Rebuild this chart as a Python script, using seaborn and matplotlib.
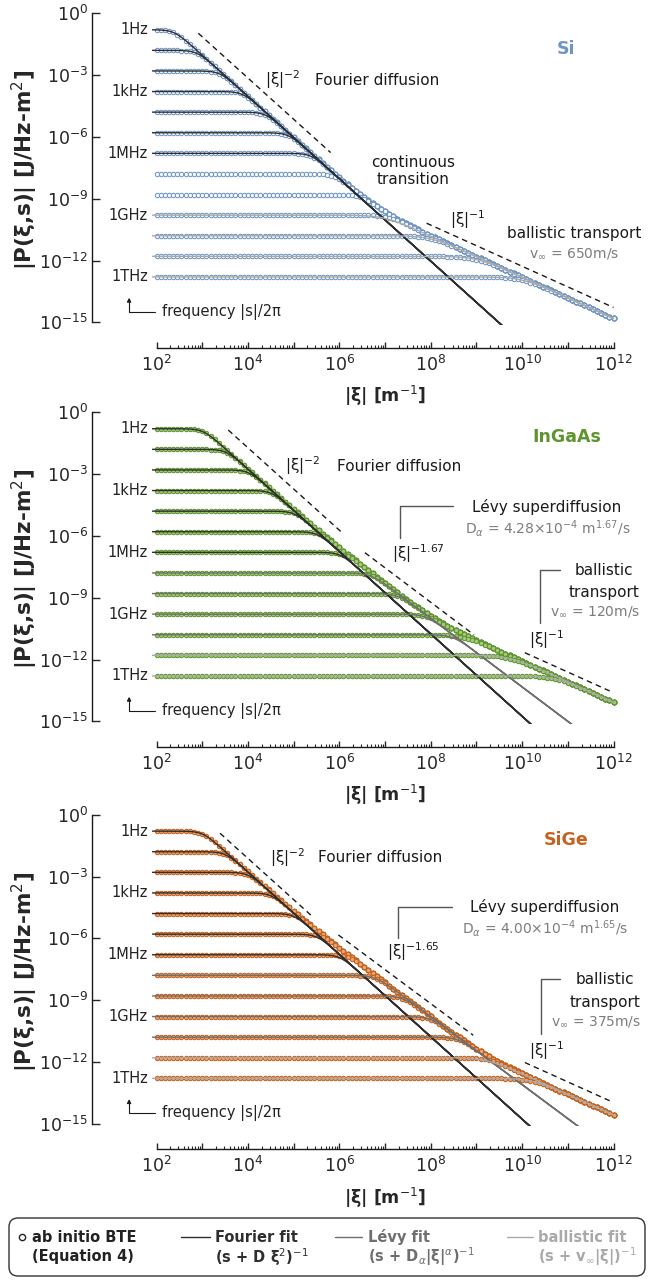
import numpy as np
import pandas as pd
import matplotlib
matplotlib.use("Agg")
import matplotlib.pyplot as plt
import seaborn as sns
from matplotlib.patches import FancyBboxPatch
from matplotlib.ticker import FixedLocator, NullFormatter, FuncFormatter, NullLocator

# ---------------- data ----------------
freq_exponents = np.arange(0, 13)                 # |s|/2pi = 10^k Hz : 1 Hz ... 1 THz
freq_label_text = ["1Hz", "", "", "1kHz", "", "", "1MHz", "", "", "1GHz", "", "", "1THz"]
xi_min_exp, xi_max_exp, pts_per_decade = 2, 12, 11

materials = ["Si", "InGaAs", "SiGe"]
material_colors = ["#6d95c8", "#5f9530", "#c5621f"]
material_faces = ["#ffffff", "#a8cb7e", "#eba672"]
D_fourier = [1.07e-4, 5.7e-6, 6.0e-6]            # m^2/s
D_levy = [None, 4.28e-4, 4.00e-4]                # m^alpha/s
alpha_levy = [None, 1.67, 1.65]
v_ballistic = [650.0, 120.0, 375.0]              # m/s
crossover_sharpness = [1.0, 2.0, 2.0]

fourier_fit_f = [list(range(0, 7)), list(range(0, 7)), list(range(0, 7))]
levy_fit_f = [[], list(range(7, 11)), list(range(7, 11))]
ballistic_fit_f = [list(range(9, 13)), list(range(11, 13)), list(range(11, 13))]

# dashed guide lines: slope, log10 prefactor, log10 xi range
guide_slopes = [[2, 1], [2, 1.67, 1], [2, 1.65, 1]]
guide_logK = [[4.86, -2.28], [6.28, 4.14, -1.61], [5.88, 4.03, -1.97]]
guide_xi_start = [[2.915, 7.91], [3.57, 6.56, 10.06], [3.39, 5.98, 10.06]]
guide_xi_end = [[5.81, 12.0], [6.03, 8.95, 11.98], [5.40, 8.93, 11.98]]

FOURIER_C, LEVY_C, BALL_C = "#2e2e2e", "#6f6f6f", "#a9a9a9"
GRAY_TXT = "#7d7d7d"


def response(omega, gamma):
    return np.abs(1.0 / (1j * omega + gamma))


def bte_rate(xi, m):
    rates = [D_fourier[m] * xi ** 2, v_ballistic[m] * xi]
    if D_levy[m] is not None:
        rates.append(D_levy[m] * xi ** alpha_levy[m])
    n = crossover_sharpness[m]
    return sum(r ** (-n) for r in rates) ** (-1.0 / n)


# ---------------- figure ----------------
sns.set_theme(style="ticks")
plt.rcParams["font.family"] = ["DejaVu Sans"]
plt.rcParams["mathtext.fontset"] = "dejavusans"

W, H = 654, 1283
fig = plt.figure(figsize=(W / 100, H / 100), dpi=100)

pxx, pxy = 45.7, 20.6
x_left = 156.5 - 0.1 * pxx
ax_w = 10.2 * pxx
y0_px = [13.3, 412.3, 814.7]
ytop, ybot = 0.5, -15.12

xi_data = np.logspace(xi_min_exp, xi_max_exp, (xi_max_exp - xi_min_exp) * pts_per_decade + 1)
xi_fit = np.logspace(1.9, 12, 600)

texts = [
    [("|ξ|$^{-2}$", 4.77, -3.24, "center", "k", 11, "normal"),
     ("Fourier diffusion", 5.47, -3.24, "left", "k", 11, "normal"),
     ("continuous\ntransition", 7.61, -7.66, "center", "k", 11, "normal"),
     ("|ξ|$^{-1}$", 8.81, -10.03, "center", "k", 11, "normal"),
     ("ballistic transport", 11.14, -10.68, "center", "k", 11, "normal"),
     ("v$_\\infty$ = 650m/s", 11.14, -11.65, "center", GRAY_TXT, 10, "normal"),
     ("Si", 10.96, -1.75, "center", material_colors[0], 12.5, "bold")],
    [("|ξ|$^{-2}$", 5.21, -2.61, "center", "k", 11, "normal"),
     ("Fourier diffusion", 5.94, -2.61, "left", "k", 11, "normal"),
     ("Lévy superdiffusion", 10.54, -4.58, "center", "k", 11, "normal"),
     ("D$_\\alpha$ = 4.28×10$^{-4}$ m$^{1.67}$/s", 10.57, -5.62, "center", GRAY_TXT, 10, "normal"),
     ("|ξ|$^{-1.67}$", 7.73, -6.88, "center", "k", 11, "normal"),
     ("ballistic", 11.79, -7.66, "center", "k", 11, "normal"),
     ("transport", 11.79, -8.74, "center", "k", 11, "normal"),
     ("v$_\\infty$ = 120m/s", 11.6, -9.68, "center", GRAY_TXT, 10, "normal"),
     ("|ξ|$^{-1}$", 10.54, -11.05, "center", "k", 11, "normal"),
     ("InGaAs", 10.98, -1.18, "center", material_colors[1], 12.5, "bold")],
    [("|ξ|$^{-2}$", 4.87, -2.07, "center", "k", 11, "normal"),
     ("Fourier diffusion", 5.54, -2.07, "left", "k", 11, "normal"),
     ("Lévy superdiffusion", 10.50, -4.47, "center", "k", 11, "normal"),
     ("D$_\\alpha$ = 4.00×10$^{-4}$ m$^{1.65}$/s", 10.50, -5.51, "center", GRAY_TXT, 10, "normal"),
     ("|ξ|$^{-1.65}$", 7.61, -6.65, "center", "k", 11, "normal"),
     ("ballistic", 11.81, -8.02, "center", "k", 11, "normal"),
     ("transport", 11.81, -9.11, "center", "k", 11, "normal"),
     ("v$_\\infty$ = 375m/s", 11.62, -10.05, "center", GRAY_TXT, 10, "normal"),
     ("|ξ|$^{-1}$", 10.54, -11.46, "center", "k", 11, "normal"),
     ("SiGe", 10.96, -1.23, "center", material_colors[2], 12.5, "bold")],
]
brackets = [
    [],
    [[(7.33, -6.12), (7.33, -4.55), (8.49, -4.55)], [(10.39, -10.24), (10.39, -7.66), (10.83, -7.66)]],
    [[(7.29, -6.0), (7.29, -4.50), (8.46, -4.50)], [(10.41, -10.65), (10.41, -7.99), (10.83, -7.99)]],
]

for m, mat in enumerate(materials):
    top = y0_px[m] - ytop * pxy
    h = (ytop - ybot) * pxy
    ax = fig.add_axes([x_left / W, 1 - (top + h) / H, ax_w / W, h / H])
    ax.patch.set_visible(False)
    ax.set_xscale("log")
    ax.set_yscale("log")

    # BTE points
    rows = []
    for k in freq_exponents:
        om = 2 * np.pi * 10.0 ** k
        P = response(om, bte_rate(xi_data, m))
        rows.append(pd.DataFrame({"xi": xi_data, "P": P, "f": k}))
    df = pd.concat(rows, ignore_index=True)
    sns.scatterplot(data=df, x="xi", y="P", ax=ax, marker="o", s=10,
                    color=material_colors[m], facecolor=material_faces[m],
                    edgecolor=material_colors[m], linewidth=0.75, legend=False, zorder=2)

    # fit lines
    fit_sets = [(fourier_fit_f[m], lambda x: D_fourier[m] * x ** 2, FOURIER_C),
                (levy_fit_f[m], (lambda x: D_levy[m] * x ** alpha_levy[m]) if D_levy[m] else None, LEVY_C),
                (ballistic_fit_f[m], lambda x: v_ballistic[m] * x, BALL_C)]
    for flist, gfun, col in fit_sets:
        if not flist:
            continue
        fr = []
        for k in flist:
            om = 2 * np.pi * 10.0 ** k
            fr.append(pd.DataFrame({"xi": xi_fit, "P": response(om, gfun(xi_fit)), "f": k}))
        dff = pd.concat(fr, ignore_index=True)
        sns.lineplot(data=dff, x="xi", y="P", units="f", estimator=None, ax=ax,
                     color=col, lw=1.0, legend=False, zorder=3)

    # dashed guides
    for n, lk, a, b in zip(guide_slopes[m], guide_logK[m], guide_xi_start[m], guide_xi_end[m]):
        gx = np.logspace(a, b, 20)
        ax.plot(gx, 10 ** lk * gx ** (-n), color="k", lw=1.0, ls=(0, (4, 3)), zorder=4)

    # brackets
    for br in brackets[m]:
        bx = [10 ** p[0] for p in br]
        by = [10 ** p[1] for p in br]
        ax.plot(bx, by, color="#555555", lw=1.0, clip_on=False)

    # texts
    for t, lx, ly, ha, col, fs, fw in texts[m]:
        ax.text(10 ** lx, 10 ** ly, t, ha=ha, va="center", color=col, fontsize=fs,
                fontweight=fw, linespacing=1.15)

    # frequency labels
    for k, lab in zip(freq_exponents, freq_label_text):
        if lab:
            ax.text(10 ** 1.81, 1 / (2 * np.pi * 10.0 ** k), lab, ha="right", va="center",
                    fontsize=10.5, color="#222222")
    ax.text(10 ** 2.11, 10 ** -14.49, "frequency |s|/2π", ha="left", va="center",
            fontsize=10.5, color="#222222")
    ax.annotate("", xy=(10 ** 1.40, 10 ** -13.8), xytext=(10 ** 1.97, 10 ** -14.49),
                arrowprops=dict(arrowstyle="-|>", connectionstyle="angle,angleA=0,angleB=90,rad=0",
                                shrinkA=0, shrinkB=0, lw=0.8, color="k", mutation_scale=6),
                annotation_clip=False)

    # axes styling
    ax.set_xlim(10 ** 1.9, 10 ** 12.1)
    ax.set_ylim(10 ** ybot, 10 ** ytop)
    for s in ["top", "right"]:
        ax.spines[s].set_visible(False)
    ax.spines["left"].set_position(("outward", 42.9))
    ax.spines["left"].set_bounds(1e-15, 1e0)
    ax.spines["bottom"].set_position(("outward", 16.5))
    ax.spines["bottom"].set_bounds(1e2, 1e12)
    for s in ["left", "bottom"]:
        ax.spines[s].set_linewidth(1.0)
        ax.spines[s].set_color("k")
    ax.yaxis.set_major_locator(FixedLocator(10.0 ** np.arange(0, -16, -3)))
    ax.yaxis.set_minor_locator(NullLocator())
    ax.xaxis.set_major_locator(FixedLocator(10.0 ** np.arange(2, 13)))
    ax.xaxis.set_major_formatter(FuncFormatter(
        lambda v, p: ("$\\mathdefault{10^{%d}}$" % round(np.log10(v))) if round(np.log10(v)) % 2 == 0 else ""))
    ax.xaxis.set_minor_locator(FixedLocator([j * 10.0 ** e for e in range(2, 12) for j in range(2, 10)]))
    ax.xaxis.set_minor_formatter(NullFormatter())
    ax.tick_params(axis="y", which="major", direction="in", length=5.5, width=1.0, labelsize=12.5, pad=3)
    ax.tick_params(axis="x", which="major", direction="in", length=4.5, width=1.0, labelsize=12.5, pad=5)
    ax.tick_params(axis="x", which="minor", direction="in", length=2.0, width=0.8)
    ax.set_xlabel("|ξ| [m$^{-1}$]", fontsize=12.5, fontweight="bold")
    ax.xaxis.set_label_coords(0.5, -0.185)
    ax.set_ylabel("|P(ξ,s)| [J/Hz-m$^2$]", fontsize=15.5, fontweight="bold")
    ax.yaxis.set_label_coords((40 - x_left) / ax_w, 0.48)
    ax.grid(False)

# ---------------- legend ----------------
lax = fig.add_axes([8 / W, 1 - 1277 / H, 638 / W, 60 / H])
lax.set_xlim(0, 638)
lax.set_ylim(60, 0)
lax.axis("off")
lax.add_patch(FancyBboxPatch((1, 1), 636, 58, boxstyle="round,pad=0,rounding_size=9",
                             fc="white", ec="#333333", lw=1.0))
r1, r2 = 20, 40
lax.plot([14], [r1], marker="o", ms=4.5, mfc="white", mec="#222222", mew=1.0, ls="")
lax.text(24, r1, "ab initio BTE", fontsize=10.5, fontweight="bold", va="center", color="#222222")
lax.text(24, r2, "(Equation 4)", fontsize=10.5, fontweight="bold", va="center", color="#222222")
legend_items = [(173, 202, 207, FOURIER_C, "Fourier fit", "(s + D ξ$^2$)$^{-1}$"),
                (327, 354, 360, LEVY_C, "Lévy fit", "(s + D$_\\alpha$|ξ|$^\\alpha$)$^{-1}$"),
                (499, 525, 530, BALL_C, "ballistic fit", "(s + v$_\\infty$|ξ|)$^{-1}$")]
for x0, x1, xt, col, l1, l2 in legend_items:
    lax.plot([x0, x1], [r1, r1], color=col, lw=1.0)
    lax.text(xt, r1, l1, fontsize=10.5, fontweight="bold", va="center", color=col)
    lax.text(xt, r2, l2, fontsize=10.5, fontweight="bold", va="center", color=col)

fig.savefig("out.png", dpi=100)
